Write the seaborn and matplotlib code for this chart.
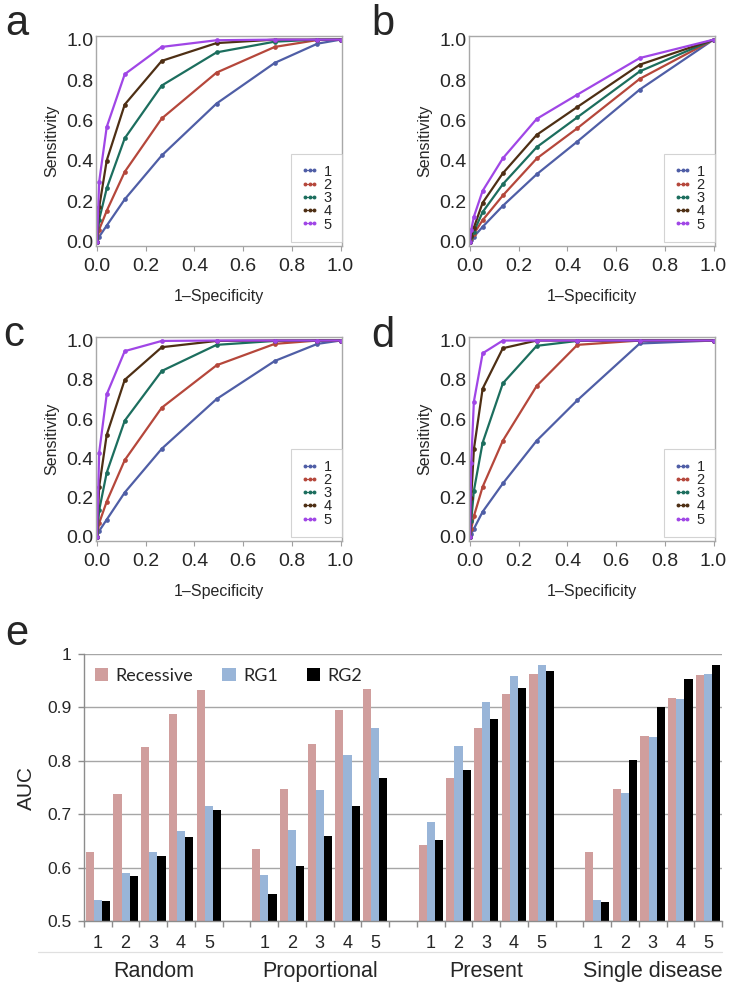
import numpy as np
import pandas as pd
import matplotlib
matplotlib.use("Agg")
import matplotlib.pyplot as plt
import seaborn as sns

sns.set_theme(style="white")
plt.rcParams["font.family"] = ["Liberation Sans", "DejaVu Sans"]

# ------------------------------------------------------------------
# DATA - ROC curves (panels a-d)
# ------------------------------------------------------------------
levels = ["1", "2", "3", "4", "5"]
roc_colors = ["#4F5EA6", "#B5473B", "#1C6E5E", "#4E2F14", "#A046E6"]

fpr_ac = [0, 0.009, 0.04, 0.114, 0.266, 0.491, 0.73, 0.905, 1.0]
fpr_bd = [0, 0.005, 0.016, 0.052, 0.135, 0.274, 0.441, 0.697, 1.0]

tpr_a = [
    [0, 0.025, 0.08, 0.21, 0.427, 0.684, 0.885, 0.98, 1.0],
    [0, 0.06, 0.153, 0.346, 0.61, 0.837, 0.964, 0.998, 1.0],
    [0, 0.11, 0.264, 0.512, 0.773, 0.937, 0.99, 1.0, 1.0],
    [0, 0.17, 0.402, 0.679, 0.895, 0.983, 1.0, 1.0, 1.0],
    [0, 0.297, 0.568, 0.829, 0.964, 0.997, 1.0, 1.0, 1.0],
]
tpr_b = [
    [0, 0.01, 0.025, 0.074, 0.178, 0.334, 0.496, 0.753, 1.0],
    [0, 0.02, 0.04, 0.107, 0.229, 0.412, 0.562, 0.806, 1.0],
    [0, 0.025, 0.05, 0.147, 0.285, 0.468, 0.616, 0.843, 1.0],
    [0, 0.03, 0.07, 0.193, 0.339, 0.529, 0.667, 0.876, 1.0],
    [0, 0.058, 0.124, 0.252, 0.413, 0.608, 0.728, 0.909, 1.0],
]
tpr_c = [
    [0, 0.03, 0.088, 0.226, 0.449, 0.702, 0.896, 0.983, 1.0],
    [0, 0.07, 0.18, 0.391, 0.658, 0.874, 0.983, 1.0, 1.0],
    [0, 0.136, 0.327, 0.592, 0.845, 0.978, 0.998, 1.0, 1.0],
    [0, 0.255, 0.52, 0.8, 0.966, 0.998, 1.0, 1.0, 1.0],
    [0, 0.429, 0.726, 0.946, 0.998, 1.0, 1.0, 1.0, 1.0],
]
tpr_d = [
    [0, 0.015, 0.041, 0.128, 0.272, 0.49, 0.696, 0.985, 1.0],
    [0, 0.04, 0.105, 0.255, 0.49, 0.769, 0.978, 1.0, 1.0],
    [0, 0.08, 0.235, 0.48, 0.782, 0.973, 0.998, 1.0, 1.0],
    [0, 0.196, 0.446, 0.755, 0.961, 1.0, 1.0, 1.0, 1.0],
    [0, 0.374, 0.689, 0.935, 1.0, 1.0, 1.0, 1.0, 1.0],
]

# ------------------------------------------------------------------
# DATA - AUC bars (panel e)
# ------------------------------------------------------------------
groups = ["Random", "Proportional", "Present", "Single disease"]
models = ["Recessive", "RG1", "RG2"]
bar_colors = ["#D99694", "#8EB4E3", "#000000"]

auc_recessive = [0.629, 0.738, 0.825, 0.887, 0.932,
                 0.634, 0.747, 0.832, 0.895, 0.934,
                 0.643, 0.767, 0.862, 0.926, 0.963,
                 0.630, 0.747, 0.847, 0.917, 0.961]
auc_rg1 = [0.540, 0.589, 0.630, 0.668, 0.715,
           0.587, 0.670, 0.745, 0.810, 0.862,
           0.686, 0.827, 0.911, 0.958, 0.980,
           0.539, 0.740, 0.845, 0.916, 0.962]
auc_rg2 = [0.537, 0.584, 0.622, 0.657, 0.708,
           0.551, 0.603, 0.659, 0.716, 0.768,
           0.651, 0.783, 0.878, 0.936, 0.969,
           0.536, 0.802, 0.901, 0.954, 0.980]

# ------------------------------------------------------------------
# FIGURE
# ------------------------------------------------------------------
W, H = 731, 988
fig = plt.figure(figsize=(W / 100, H / 100), dpi=100)


def px_axes(left, top, right, bottom):
    return fig.add_axes([left / W, 1 - bottom / H, (right - left) / W, (bottom - top) / H])


def roc_panel(ax, fpr, tprs):
    rows = []
    for lev, tpr in zip(levels, tprs):
        for x, y in zip(fpr, tpr):
            rows.append({"fpr": x, "tpr": y, "level": lev})
    df = pd.DataFrame(rows)
    sns.lineplot(data=df, x="fpr", y="tpr", hue="level", hue_order=levels,
                 palette=roc_colors, estimator=None, sort=False,
                 marker="o", markersize=3.4, markeredgewidth=0,
                 linewidth=1.6, legend=False, ax=ax)
    ax.set_xlim(-0.004, 1.006)
    ax.set_ylim(-0.021, 1.018)
    ax.set_xticks(np.arange(0, 1.01, 0.2))
    ax.set_yticks(np.arange(0, 1.01, 0.2))
    ax.set_xticklabels([f"{v:.1f}" for v in np.arange(0, 1.01, 0.2)])
    ax.set_yticklabels([f"{v:.1f}" for v in np.arange(0, 1.01, 0.2)])
    ax.tick_params(axis="x", length=3.5, width=0.8, color="#A0A0A0",
                   labelsize=14, pad=5, bottom=True, direction="out")
    ax.tick_params(axis="y", length=0, labelsize=14, pad=2)
    for s in ax.spines.values():
        s.set_color("#A8A8A8")
        s.set_linewidth(1.0)
    ax.set_xlabel("1\u2013Specificity", fontsize=11.5, labelpad=10)
    ax.set_ylabel("Sensitivity", fontsize=11.5, labelpad=5)
    leg = ax.legend(ax.get_lines(), levels, loc="lower right",
                    bbox_to_anchor=(1.0, 0.02), borderaxespad=0,
                    fontsize=10.5, numpoints=3, handlelength=1.2,
                    handletextpad=0.35, labelspacing=-0.05,
                    frameon=True, fancybox=False, borderpad=0.7)
    leg.get_frame().set_edgecolor("#C8C8C8")
    leg.get_frame().set_linewidth(0.8)
    for h in leg.legend_handles:
        h.set_linewidth(0.8)
        h.set_markersize(2.8)


ax_a = px_axes(96, 36, 342, 246)
ax_b = px_axes(469, 36, 715, 246)
ax_c = px_axes(96, 337, 342, 541)
ax_d = px_axes(469, 337, 715, 541)
roc_panel(ax_a, fpr_ac, tpr_a)
roc_panel(ax_b, fpr_bd, tpr_b)
roc_panel(ax_c, fpr_ac, tpr_c)
roc_panel(ax_d, fpr_bd, tpr_d)

# ------------------------------------------------------------------
# PANEL e - AUC bars grouped by scenario, with an empty slot between groups
# ------------------------------------------------------------------
ax_e = px_axes(84, 654, 722, 921)
slot_pos = [g * 6 + k for g in range(len(groups)) for k in range(5)]
rows = []
for vals, m in zip([auc_recessive, auc_rg1, auc_rg2], models):
    for pos, v in zip(slot_pos, vals):
        rows.append({"pos": pos, "auc": v, "model": m})
bars = pd.DataFrame(rows)

sns.barplot(data=bars, x="pos", y="auc", hue="model", hue_order=models,
            palette=bar_colors, native_scale=True, width=0.88, gap=0,
            errorbar=None, linewidth=0, ax=ax_e)

ax_e.set_ylim(0.5, 1.0)
ax_e.set_xlim(-0.5, 22.5)
ax_e.set_yticks([0.5, 0.6, 0.7, 0.8, 0.9, 1.0])
ax_e.set_yticklabels(["0.5", "0.6", "0.7", "0.8", "0.9", "1"])
ax_e.yaxis.grid(True, color="#A6A6A6", linewidth=1.0)
ax_e.set_axisbelow(True)
ax_e.set_xticks(np.arange(-0.5, 23, 1.0))
ax_e.set_xticklabels([])
ax_e.set_xticks(slot_pos, minor=True)
ax_e.set_xticklabels([str(k + 1) for g in range(4) for k in range(5)], minor=True)
ax_e.tick_params(axis="x", which="major", length=4, width=1.0, color="#8C8C8C",
                 direction="out", bottom=True)
ax_e.tick_params(axis="x", which="minor", length=0, labelsize=13, pad=10)
ax_e.tick_params(axis="y", length=4, width=1.0, color="#8C8C8C",
                 direction="out", left=True, labelsize=12.5, pad=5)
for side in ["top", "right"]:
    ax_e.spines[side].set_visible(False)
for side in ["left", "bottom"]:
    ax_e.spines[side].set_color("#8C8C8C")
    ax_e.spines[side].set_linewidth(1.0)
ax_e.set_xlabel("")
ax_e.set_ylabel("AUC", fontsize=15, labelpad=8)

# group separator line and group names below the level numbers
ax_e.plot([-0.072, 1.0], [-0.116, -0.116], transform=ax_e.transAxes,
          color="#E0E0E0", linewidth=0.9, clip_on=False)
for g, name in enumerate(groups):
    ax_e.text(g * 6 + 2, -0.19, name, transform=ax_e.get_xaxis_transform(),
              ha="center", va="center", fontsize=15.5)

leg = ax_e.legend(loc="upper left", bbox_to_anchor=(0.0, 0.99), ncol=3,
                  frameon=False, handlelength=0.75,
                  handleheight=0.75, handletextpad=0.4, columnspacing=1.6,
                  borderaxespad=0.2, prop={"family": ["Lato", "DejaVu Sans"], "size": 13})

# panel letters
for letter, x, y in [("a", 5, 35), ("b", 371, 35), ("c", 3, 346),
                     ("d", 371, 347), ("e", 5, 645)]:
    fig.text(x / W, 1 - y / H, letter, fontsize=30, ha="left", va="baseline")

fig.savefig("out.png", dpi=100)
